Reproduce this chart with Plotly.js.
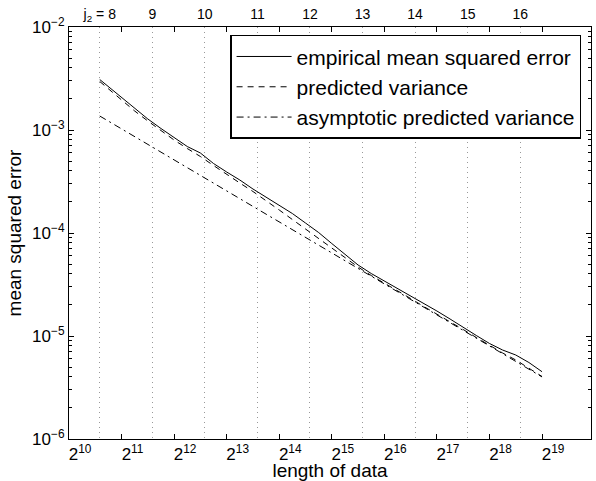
<!DOCTYPE html>
<html>
<head>
<meta charset="utf-8">
<script src="https://cdn.plot.ly/plotly-3.0.1.min.js"></script>
<style>html,body{margin:0;padding:0;background:#fff;}#chart{width:596px;height:481px;}</style>
</head>
<body>
<div id="chart"></div>
<script>
// length of data (x values)
const lengths = [1536, 1722, 2048, 2435, 2896, 3444, 4096, 4871, 5793, 6889, 8192, 9742, 11585, 13777,
  16384, 19484, 23170, 27554, 32768, 38968, 46341, 55109, 65536, 77936, 92682, 110218, 131072,
  155872, 185364, 220436, 262144, 311744, 370728, 440872, 524288];

// empirical mean squared error
const empirical = [3.09e-3, 2.645e-3, 2.068e-3, 1.617e-3, 1.279e-3, 1.034e-3, 8.46e-4, 6.915e-4, 5.98e-4,
  4.728e-4, 3.91e-4, 3.27e-4, 2.674e-4, 2.236e-4, 1.87e-4, 1.545e-4, 1.25e-4, 1.01e-4, 7.9e-5,
  6.15e-5, 4.89e-5, 4.044e-5, 3.42e-5, 2.924e-5, 2.472e-5, 2.068e-5, 1.748e-5, 1.462e-5, 1.209e-5,
  1.011e-5, 8.46e-6, 7.31e-6, 6.54e-6, 5.53e-6, 4.5e-6];

// predicted variance
const predicted = [2.958e-3, 2.5e-3, 1.956e-3, 1.529e-3, 1.223e-3, 9.89e-4, 7.99e-4, 6.61e-4, 5.53e-4,
  4.52e-4, 3.698e-4, 3.057e-4, 2.528e-4, 2.068e-4, 1.672e-4, 1.352e-4, 1.093e-4, 8.84e-5, 7.07e-5,
  5.72e-5, 4.675e-5, 3.867e-5, 3.27e-5, 2.765e-5, 2.312e-5, 1.933e-5, 1.635e-5, 1.367e-5, 1.156e-5,
  9.67e-6, 8.09e-6, 6.84e-6, 5.85e-6, 4.89e-6, 4.044e-6];

// asymptotic predicted variance
const asymptotic = [1.367e-3, 1.22e-3, 1.025e-3, 8.62e-4, 7.25e-4, 6.1e-4, 5.13e-4, 4.31e-4, 3.625e-4,
  3.05e-4, 2.563e-4, 2.156e-4, 1.813e-4, 1.524e-4, 1.282e-4, 1.078e-4, 9.06e-5, 7.62e-5, 6.41e-5,
  5.39e-5, 4.53e-5, 3.81e-5, 3.204e-5, 2.695e-5, 2.266e-5, 1.905e-5, 1.602e-5, 1.347e-5, 1.133e-5,
  9.53e-6, 8.01e-6, 6.74e-6, 5.66e-6, 4.76e-6, 4.005e-6];

const seriesNames = ['empirical mean squared error', 'predicted variance', 'asymptotic predicted variance'];

// bottom axis ticks
const xTickVals = [1024, 2048, 4096, 8192, 16384, 32768, 65536, 131072, 262144, 524288];
const xTickText = ['2<sup>10</sup>', '2<sup>11</sup>', '2<sup>12</sup>', '2<sup>13</sup>', '2<sup>14</sup>',
  '2<sup>15</sup>', '2<sup>16</sup>', '2<sup>17</sup>', '2<sup>18</sup>', '2<sup>19</sup>'];

// top axis: j2 markers
const j2Lengths = [1536, 3072, 6144, 12288, 24576, 49152, 98304, 196608, 393216];
const j2Text = ['j<sub>2</sub> = 8', '9', '10', '11', '12', '13', '14', '15', '16'];

// y ticks
const yTickVals = [1e-6, 1e-5, 1e-4, 1e-3, 1e-2];
const yTickText = ['10<sup>\u22126</sup>', '10<sup>\u22125</sup>', '10<sup>\u22124</sup>', '10<sup>\u22123</sup>', '10<sup>\u22122</sup>'];
const minorDigits = [2, 3, 4, 5, 6, 7, 8, 9];

const yMinorVals = [];
yTickVals.slice(0, -1).forEach(d => minorDigits.forEach(m => yMinorVals.push(d * m)));

const FONT = 'Liberation Sans, Arial, Helvetica, sans-serif';

const traces = [
  {x: lengths, y: empirical, name: seriesNames[0], type: 'scatter', mode: 'lines',
   line: {color: '#000', width: 1, dash: 'solid'}},
  {x: lengths, y: predicted, name: seriesNames[1], type: 'scatter', mode: 'lines',
   line: {color: '#000', width: 1, dash: '6px,5px'}},
  {x: lengths, y: asymptotic, name: seriesNames[2], type: 'scatter', mode: 'lines',
   line: {color: '#000', width: 1, dash: '7px,4px,2px,4px'}},
  // carriers for the top j2 axis and the minor-tick axis (no visible marks)
  {x: j2Lengths, y: j2Lengths.map(() => null), xaxis: 'x2', yaxis: 'y', type: 'scatter', mode: 'lines',
   showlegend: false, hoverinfo: 'skip'},
  {x: yMinorVals.map(() => null), y: yMinorVals, xaxis: 'x', yaxis: 'y2', type: 'scatter', mode: 'lines',
   showlegend: false, hoverinfo: 'skip'}
];

const xr = [Math.log10(1024), 6];
const yr = [-6, -2];

const layout = {
  width: 596, height: 481,
  margin: {l: 69, r: 5, t: 27, b: 42},
  paper_bgcolor: '#fff', plot_bgcolor: '#fff',
  font: {family: FONT, color: '#000', size: 16},
  showlegend: true,
  legend: {
    x: 0.981, y: 0.981, xanchor: 'right', yanchor: 'top',
    bgcolor: '#fff', bordercolor: '#000', borderwidth: 1.5,
    font: {family: FONT, size: 21, color: '#000'},
    itemwidth: 55
  },
  xaxis: {
    type: 'log', range: xr, autorange: false,
    tickmode: 'array', tickvals: xTickVals, ticktext: xTickText,
    ticks: 'inside', ticklen: 5, tickcolor: '#000', tickwidth: 1,
    showline: true, linecolor: '#000', linewidth: 1, mirror: 'ticks',
    showgrid: false, zeroline: false,
    tickfont: {family: FONT, size: 17, color: '#000'},
    ticklabelshift: 11, ticklabelstandoff: 0,
    title: {text: 'length of data', font: {family: FONT, size: 19, color: '#000'}, standoff: 3},
    automargin: false
  },
  xaxis2: {
    type: 'log', range: xr, autorange: false,
    overlaying: 'x', anchor: 'y', side: 'top',
    tickmode: 'array', tickvals: j2Lengths, ticktext: j2Text,
    ticks: '', showline: false, zeroline: false,
    showgrid: true, gridcolor: '#999', gridwidth: 1, griddash: '1px,4px',
    tickfont: {family: FONT, size: 14, color: '#000'},
    ticklabelstandoff: 4,
    automargin: false
  },
  yaxis: {
    type: 'log', range: yr, autorange: false,
    tickmode: 'array', tickvals: yTickVals, ticktext: yTickText,
    ticks: 'inside', ticklen: 5, tickcolor: '#000', tickwidth: 1,
    showline: true, linecolor: '#000', linewidth: 1, mirror: 'ticks',
    showgrid: false, zeroline: false,
    tickfont: {family: FONT, size: 17, color: '#000'},
    title: {text: 'mean squared error', font: {family: FONT, size: 19, color: '#000'}},
    automargin: false
  },
  yaxis2: {
    type: 'log', range: yr, autorange: false,
    overlaying: 'y', anchor: 'x', side: 'left',
    tickmode: 'array', tickvals: yMinorVals,
    ticks: 'inside', ticklen: 3, tickcolor: '#000', tickwidth: 1,
    showline: false, mirror: 'ticks', showticklabels: false,
    showgrid: false, zeroline: false,
    automargin: false
  }
};

Plotly.newPlot('chart', traces, layout, {displayModeBar: false, staticPlot: true});
</script>
</body>
</html>
